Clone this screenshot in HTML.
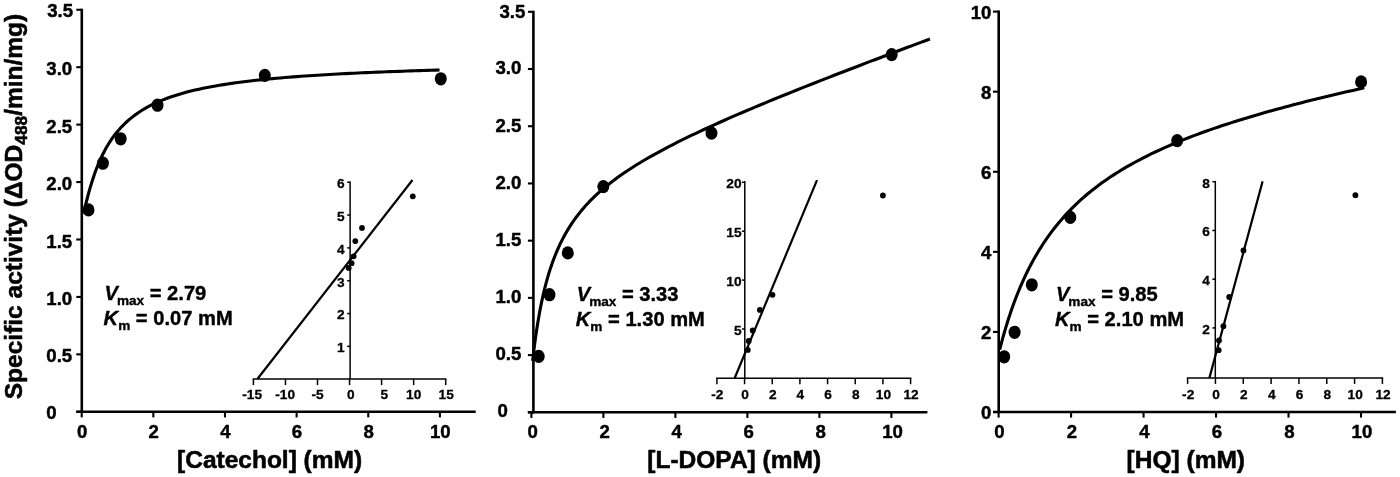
<!DOCTYPE html>
<html lang="en"><head><meta charset="utf-8"><title>Kinetics</title>
<style>html,body{margin:0;padding:0;background:#fff}svg{display:block}</style></head><body>
<svg width="1400" height="477" viewBox="0 0 1400 477">
<rect width="1400" height="477" fill="#fff"/>
<text transform="translate(22.1,206.5) rotate(-90)" text-anchor="middle" font-family='"Liberation Sans", sans-serif' font-weight="bold" font-size="24.5" fill="#000" stroke="#000" stroke-width="0.55" stroke-linejoin="round">Specific activity (ΔOD<tspan font-size="17.3" dy="5">488</tspan><tspan dy="-5">/min/mg)</tspan></text>
<path d="M81.80,8.70 V413.10" stroke="#000" stroke-width="2.60" fill="none"/>
<path d="M76.30,411.80 H475.72" stroke="#000" stroke-width="2.60" fill="none"/>
<path d="M76.30,411.80 H81.80" stroke="#000" stroke-width="2.10"/>
<path d="M76.30,354.36 H81.80" stroke="#000" stroke-width="2.10"/>
<path d="M76.30,296.93 H81.80" stroke="#000" stroke-width="2.10"/>
<path d="M76.30,239.49 H81.80" stroke="#000" stroke-width="2.10"/>
<path d="M76.30,182.06 H81.80" stroke="#000" stroke-width="2.10"/>
<path d="M76.30,124.62 H81.80" stroke="#000" stroke-width="2.10"/>
<path d="M76.30,67.19 H81.80" stroke="#000" stroke-width="2.10"/>
<path d="M76.30,9.75 H81.80" stroke="#000" stroke-width="2.10"/>
<path d="M81.70,411.80 V417.40" stroke="#000" stroke-width="2.10"/>
<path d="M153.34,411.80 V417.40" stroke="#000" stroke-width="2.10"/>
<path d="M224.98,411.80 V417.40" stroke="#000" stroke-width="2.10"/>
<path d="M296.62,411.80 V417.40" stroke="#000" stroke-width="2.10"/>
<path d="M368.26,411.80 V417.40" stroke="#000" stroke-width="2.10"/>
<path d="M439.90,411.80 V417.40" stroke="#000" stroke-width="2.10"/>
<g font-family='"Liberation Sans", sans-serif' font-weight="bold" font-size="18.60" fill="#000" stroke="#000" stroke-width="0.45" stroke-linejoin="round">
<text x="46.35" y="418.80" text-anchor="start">0</text>
<text x="46.35" y="362.46" text-anchor="start">0.5</text>
<text x="46.35" y="305.03" text-anchor="start">1.0</text>
<text x="46.35" y="247.59" text-anchor="start">1.5</text>
<text x="46.35" y="190.16" text-anchor="start">2.0</text>
<text x="46.35" y="132.72" text-anchor="start">2.5</text>
<text x="46.35" y="75.29" text-anchor="start">3.0</text>
<text x="47.15" y="17.35" text-anchor="start">3.5</text>
<text x="82.10" y="438.10" text-anchor="middle">0</text>
<text x="153.74" y="438.10" text-anchor="middle">2</text>
<text x="225.38" y="438.10" text-anchor="middle">4</text>
<text x="297.02" y="438.10" text-anchor="middle">6</text>
<text x="368.66" y="438.10" text-anchor="middle">8</text>
<text x="440.30" y="438.10" text-anchor="middle">10</text>
</g>
<path d="M84.92,207.78 L85.76,204.27 L86.60,200.87 L87.43,197.59 L88.27,194.41 L89.10,191.36 L89.94,188.41 L90.77,185.57 L91.61,182.84 L92.45,180.20 L93.28,177.66 L94.12,175.21 L94.95,172.85 L95.79,170.58 L96.62,168.38 L97.46,166.26 L98.30,164.21 L99.13,162.24 L99.97,160.33 L100.80,158.48 L101.64,156.69 L102.48,154.97 L103.31,153.29 L104.15,151.67 L104.98,150.11 L105.82,148.59 L106.65,147.11 L107.49,145.68 L108.33,144.30 L109.16,142.95 L110.00,141.65 L110.83,140.38 L111.67,139.14 L112.51,137.95 L113.34,136.78 L114.18,135.65 L115.01,134.55 L115.85,133.48 L116.68,132.43 L117.52,131.42 L121.60,126.82 L125.67,122.75 L129.75,119.12 L133.82,115.87 L137.90,112.94 L141.98,110.29 L146.05,107.88 L150.13,105.68 L154.21,103.66 L158.28,101.81 L162.36,100.10 L166.43,98.52 L170.51,97.05 L174.59,95.69 L178.66,94.42 L182.74,93.23 L186.82,92.12 L190.89,91.07 L194.97,90.09 L199.04,89.17 L203.12,88.30 L207.20,87.48 L211.27,86.70 L215.35,85.97 L219.43,85.27 L223.50,84.61 L227.58,83.97 L231.65,83.37 L235.73,82.80 L239.81,82.26 L243.88,81.73 L247.96,81.24 L252.04,80.76 L256.11,80.30 L260.19,79.86 L264.26,79.44 L268.34,79.04 L272.42,78.65 L276.49,78.28 L280.57,77.92 L284.65,77.57 L288.72,77.24 L292.80,76.92 L296.87,76.61 L300.95,76.31 L305.03,76.02 L309.10,75.74 L313.18,75.47 L317.26,75.21 L321.33,74.96 L325.41,74.71 L329.48,74.48 L333.56,74.24 L337.64,74.02 L341.71,73.80 L345.79,73.59 L349.86,73.39 L353.94,73.19 L358.02,73.00 L362.09,72.81 L366.17,72.63 L370.25,72.45 L374.32,72.28 L378.40,72.11 L382.47,71.95 L386.55,71.79 L390.63,71.63 L394.70,71.48 L398.78,71.33 L402.86,71.19 L406.93,71.05 L411.01,70.91 L415.08,70.77 L419.16,70.64 L423.24,70.52 L427.31,70.39 L431.39,70.27 L435.47,70.15 L439.54,70.03" stroke="#000" stroke-width="3.10" fill="none" stroke-linecap="butt" stroke-linejoin="round"/>
<ellipse cx="88.50" cy="209.90" rx="6.00" ry="6.65" fill="#000"/>
<ellipse cx="102.90" cy="163.20" rx="6.00" ry="6.65" fill="#000"/>
<ellipse cx="120.70" cy="138.80" rx="6.00" ry="6.65" fill="#000"/>
<ellipse cx="157.50" cy="105.20" rx="6.00" ry="6.65" fill="#000"/>
<ellipse cx="264.80" cy="75.40" rx="6.00" ry="6.65" fill="#000"/>
<ellipse cx="440.80" cy="78.80" rx="6.00" ry="6.65" fill="#000"/>
<text x="269.60" y="468.00" text-anchor="middle" font-family='"Liberation Sans", sans-serif' font-weight="bold" font-size="24.5" fill="#000" stroke="#000" stroke-width="0.55" stroke-linejoin="round">[Catechol] (mM)</text>
<g font-family='"Liberation Sans", sans-serif' font-weight="bold" font-size="20.15" fill="#000" stroke="#000" stroke-width="0.38" stroke-linejoin="round">
<text x="104.60" y="300.40"><tspan font-style="italic">V</tspan><tspan font-size="13.6" dy="5.0" dx="-1.1">max</tspan><tspan dy="-5.0"> = 2.79</tspan></text>
<text x="103.60" y="324.90"><tspan font-style="italic">K</tspan><tspan font-size="13.6" dy="5.0">m</tspan><tspan dy="-5.0"> = 0.07 mM</tspan></text>
</g>
<path d="M350.10,181.40 V379.10" stroke="#000" stroke-width="1.50"/>
<path d="M252.65,379.10 H446.45" stroke="#000" stroke-width="1.50"/>
<g font-family='"Liberation Sans", sans-serif' font-weight="bold" font-size="13.7" fill="#000" stroke="#000" stroke-width="0.3" stroke-linejoin="round">
<path d="M253.40,379.10 V385.10" stroke="#000" stroke-width="1.50"/>
<text x="252.20" y="399.00" text-anchor="middle">-15</text>
<path d="M285.45,379.10 V385.10" stroke="#000" stroke-width="1.50"/>
<text x="285.15" y="399.00" text-anchor="middle">-10</text>
<path d="M317.50,379.10 V385.10" stroke="#000" stroke-width="1.50"/>
<text x="317.50" y="399.00" text-anchor="middle">-5</text>
<path d="M349.55,379.10 V385.10" stroke="#000" stroke-width="1.50"/>
<text x="350.75" y="399.00" text-anchor="middle">0</text>
<path d="M381.60,379.10 V385.10" stroke="#000" stroke-width="1.50"/>
<text x="384.40" y="399.00" text-anchor="middle">5</text>
<path d="M413.65,379.10 V385.10" stroke="#000" stroke-width="1.50"/>
<text x="413.65" y="399.00" text-anchor="middle">10</text>
<path d="M445.70,379.10 V385.10" stroke="#000" stroke-width="1.50"/>
<text x="446.20" y="399.00" text-anchor="middle">15</text>
<path d="M347.20,346.37 H350.10" stroke="#000" stroke-width="1.50"/>
<text x="344.70" y="352.17" text-anchor="end">1</text>
<path d="M347.20,313.54 H350.10" stroke="#000" stroke-width="1.50"/>
<text x="344.70" y="319.34" text-anchor="end">2</text>
<path d="M347.20,280.71 H350.10" stroke="#000" stroke-width="1.50"/>
<text x="344.70" y="286.51" text-anchor="end">3</text>
<path d="M347.20,247.88 H350.10" stroke="#000" stroke-width="1.50"/>
<text x="344.70" y="253.68" text-anchor="end">4</text>
<path d="M347.20,215.05 H350.10" stroke="#000" stroke-width="1.50"/>
<text x="344.70" y="220.85" text-anchor="end">5</text>
<path d="M347.20,182.22 H350.10" stroke="#000" stroke-width="1.50"/>
<text x="344.70" y="188.02" text-anchor="end">6</text>
</g>
<path d="M412.50,180.00 L257.40,379.00" stroke="#000" stroke-width="2.2"/>
<circle cx="412.80" cy="196.30" r="2.9" fill="#000"/>
<circle cx="362.00" cy="227.90" r="2.9" fill="#000"/>
<circle cx="355.30" cy="241.10" r="2.9" fill="#000"/>
<circle cx="353.60" cy="256.30" r="2.9" fill="#000"/>
<circle cx="351.60" cy="263.20" r="2.9" fill="#000"/>
<circle cx="348.70" cy="267.90" r="2.9" fill="#000"/>
<path d="M533.40,10.75 V413.60" stroke="#000" stroke-width="2.60" fill="none"/>
<path d="M527.80,412.30 H927.40" stroke="#000" stroke-width="2.60" fill="none"/>
<path d="M527.90,412.30 H533.40" stroke="#000" stroke-width="2.10"/>
<path d="M527.90,355.09 H533.40" stroke="#000" stroke-width="2.10"/>
<path d="M527.90,297.87 H533.40" stroke="#000" stroke-width="2.10"/>
<path d="M527.90,240.66 H533.40" stroke="#000" stroke-width="2.10"/>
<path d="M527.90,183.44 H533.40" stroke="#000" stroke-width="2.10"/>
<path d="M527.90,126.23 H533.40" stroke="#000" stroke-width="2.10"/>
<path d="M527.90,69.01 H533.40" stroke="#000" stroke-width="2.10"/>
<path d="M527.90,11.80 H533.40" stroke="#000" stroke-width="2.10"/>
<path d="M531.40,412.30 V417.90" stroke="#000" stroke-width="2.10"/>
<path d="M603.40,412.30 V417.90" stroke="#000" stroke-width="2.10"/>
<path d="M675.40,412.30 V417.90" stroke="#000" stroke-width="2.10"/>
<path d="M747.40,412.30 V417.90" stroke="#000" stroke-width="2.10"/>
<path d="M819.40,412.30 V417.90" stroke="#000" stroke-width="2.10"/>
<path d="M891.40,412.30 V417.90" stroke="#000" stroke-width="2.10"/>
<g font-family='"Liberation Sans", sans-serif' font-weight="bold" font-size="18.60" fill="#000" stroke="#000" stroke-width="0.45" stroke-linejoin="round">
<text x="497.50" y="416.60" text-anchor="start">0</text>
<text x="495.50" y="360.39" text-anchor="start">0.5</text>
<text x="495.50" y="303.17" text-anchor="start">1.0</text>
<text x="495.50" y="245.96" text-anchor="start">1.5</text>
<text x="495.50" y="188.74" text-anchor="start">2.0</text>
<text x="495.50" y="131.53" text-anchor="start">2.5</text>
<text x="495.50" y="74.31" text-anchor="start">3.0</text>
<text x="499.50" y="18.10" text-anchor="start">3.5</text>
<text x="532.60" y="438.10" text-anchor="middle">0</text>
<text x="604.60" y="438.10" text-anchor="middle">2</text>
<text x="676.60" y="438.10" text-anchor="middle">4</text>
<text x="748.60" y="438.10" text-anchor="middle">6</text>
<text x="820.60" y="438.10" text-anchor="middle">8</text>
<text x="892.60" y="438.10" text-anchor="middle">10</text>
</g>
<path d="M532.66,360.94 L533.55,353.14 L534.44,345.89 L535.33,339.15 L536.22,332.84 L537.11,326.94 L538.00,321.40 L538.90,316.19 L539.79,311.28 L540.68,306.63 L541.57,302.24 L542.46,298.07 L543.35,294.11 L544.24,290.35 L545.13,286.76 L546.02,283.34 L546.91,280.06 L547.80,276.93 L548.69,273.93 L549.58,271.06 L550.48,268.30 L551.37,265.64 L552.26,263.08 L553.15,260.62 L554.04,258.25 L554.93,255.96 L555.82,253.75 L556.71,251.61 L557.60,249.53 L558.49,247.53 L559.38,245.59 L560.27,243.70 L561.16,241.87 L562.06,240.09 L562.95,238.37 L563.84,236.69 L564.73,235.05 L565.62,233.46 L566.51,231.91 L567.40,230.39 L571.99,223.15 L576.58,216.70 L581.17,210.87 L585.76,205.56 L590.34,200.68 L594.93,196.15 L599.52,191.93 L604.11,187.96 L608.70,184.22 L613.29,180.66 L617.88,177.28 L622.47,174.04 L627.06,170.93 L631.64,167.94 L636.23,165.04 L640.82,162.24 L645.41,159.52 L650.00,156.88 L654.59,154.30 L659.18,151.78 L663.77,149.32 L668.35,146.91 L672.94,144.54 L677.53,142.22 L682.12,139.94 L686.71,137.69 L691.30,135.47 L695.89,133.29 L700.48,131.13 L705.07,129.00 L709.65,126.90 L714.24,124.82 L718.83,122.76 L723.42,120.71 L728.01,118.69 L732.60,116.69 L737.19,114.70 L741.78,112.73 L746.37,110.77 L750.95,108.83 L755.54,106.90 L760.13,104.98 L764.72,103.08 L769.31,101.18 L773.90,99.30 L778.49,97.42 L783.08,95.56 L787.67,93.70 L792.25,91.85 L796.84,90.01 L801.43,88.18 L806.02,86.35 L810.61,84.54 L815.20,82.73 L819.79,80.92 L824.38,79.12 L828.97,77.33 L833.55,75.54 L838.14,73.76 L842.73,71.99 L847.32,70.21 L851.91,68.45 L856.50,66.69 L861.09,64.93 L865.68,63.17 L870.26,61.42 L874.85,59.68 L879.44,57.94 L884.03,56.20 L888.62,54.46 L893.21,52.73 L897.80,51.00 L902.39,49.28 L906.98,47.56 L911.56,45.84 L916.15,44.12 L920.74,42.41 L925.33,40.70 L929.92,38.99" stroke="#000" stroke-width="3.10" fill="none" stroke-linecap="butt" stroke-linejoin="round"/>
<ellipse cx="538.70" cy="356.40" rx="6.00" ry="6.65" fill="#000"/>
<ellipse cx="549.50" cy="294.70" rx="6.00" ry="6.65" fill="#000"/>
<ellipse cx="567.80" cy="252.90" rx="6.00" ry="6.65" fill="#000"/>
<ellipse cx="603.30" cy="186.60" rx="6.00" ry="6.65" fill="#000"/>
<ellipse cx="711.50" cy="133.10" rx="6.00" ry="6.65" fill="#000"/>
<ellipse cx="891.70" cy="54.60" rx="6.00" ry="6.65" fill="#000"/>
<text x="734.20" y="468.00" text-anchor="middle" font-family='"Liberation Sans", sans-serif' font-weight="bold" font-size="24.5" fill="#000" stroke="#000" stroke-width="0.55" stroke-linejoin="round">[L-DOPA] (mM)</text>
<g font-family='"Liberation Sans", sans-serif' font-weight="bold" font-size="20.15" fill="#000" stroke="#000" stroke-width="0.38" stroke-linejoin="round">
<text x="576.80" y="301.00"><tspan font-style="italic">V</tspan><tspan font-size="13.6" dy="5.0" dx="-1.1">max</tspan><tspan dy="-5.0"> = 3.33</tspan></text>
<text x="575.80" y="325.50"><tspan font-style="italic">K</tspan><tspan font-size="13.6" dy="5.0">m</tspan><tspan dy="-5.0"> = 1.30 mM</tspan></text>
</g>
<path d="M744.80,180.90 V378.20" stroke="#000" stroke-width="1.50"/>
<path d="M716.15,378.20 H911.35" stroke="#000" stroke-width="1.50"/>
<g font-family='"Liberation Sans", sans-serif' font-weight="bold" font-size="13.7" fill="#000" stroke="#000" stroke-width="0.3" stroke-linejoin="round">
<path d="M716.90,378.20 V384.20" stroke="#000" stroke-width="1.50"/>
<text x="717.40" y="399.00" text-anchor="middle">-2</text>
<path d="M744.57,378.20 V384.20" stroke="#000" stroke-width="1.50"/>
<text x="745.07" y="399.00" text-anchor="middle">0</text>
<path d="M772.24,378.20 V384.20" stroke="#000" stroke-width="1.50"/>
<text x="772.74" y="399.00" text-anchor="middle">2</text>
<path d="M799.91,378.20 V384.20" stroke="#000" stroke-width="1.50"/>
<text x="800.41" y="399.00" text-anchor="middle">4</text>
<path d="M827.58,378.20 V384.20" stroke="#000" stroke-width="1.50"/>
<text x="828.08" y="399.00" text-anchor="middle">6</text>
<path d="M855.25,378.20 V384.20" stroke="#000" stroke-width="1.50"/>
<text x="855.75" y="399.00" text-anchor="middle">8</text>
<path d="M882.92,378.20 V384.20" stroke="#000" stroke-width="1.50"/>
<text x="883.42" y="399.00" text-anchor="middle">10</text>
<path d="M910.59,378.20 V384.20" stroke="#000" stroke-width="1.50"/>
<text x="911.09" y="399.00" text-anchor="middle">12</text>
<path d="M741.90,329.00 H744.80" stroke="#000" stroke-width="1.50"/>
<text x="741.50" y="334.80" text-anchor="end">5</text>
<path d="M741.90,280.10 H744.80" stroke="#000" stroke-width="1.50"/>
<text x="741.50" y="285.90" text-anchor="end">10</text>
<path d="M741.90,231.20 H744.80" stroke="#000" stroke-width="1.50"/>
<text x="741.50" y="237.00" text-anchor="end">15</text>
<path d="M741.90,182.30 H744.80" stroke="#000" stroke-width="1.50"/>
<text x="741.50" y="188.10" text-anchor="end">20</text>
</g>
<path d="M817.00,180.10 L734.70,378.00" stroke="#000" stroke-width="2.2"/>
<circle cx="882.90" cy="195.50" r="2.9" fill="#000"/>
<circle cx="772.50" cy="294.80" r="2.9" fill="#000"/>
<circle cx="759.90" cy="309.90" r="2.9" fill="#000"/>
<circle cx="752.70" cy="330.50" r="2.9" fill="#000"/>
<circle cx="748.70" cy="341.00" r="2.9" fill="#000"/>
<circle cx="747.80" cy="349.90" r="2.9" fill="#000"/>
<path d="M998.70,10.55 V413.30" stroke="#000" stroke-width="2.60" fill="none"/>
<path d="M993.00,412.00 H1395.90" stroke="#000" stroke-width="2.60" fill="none"/>
<path d="M993.00,412.00 H998.70" stroke="#000" stroke-width="2.10"/>
<path d="M993.00,331.92 H998.70" stroke="#000" stroke-width="2.10"/>
<path d="M993.00,251.84 H998.70" stroke="#000" stroke-width="2.10"/>
<path d="M993.00,171.76 H998.70" stroke="#000" stroke-width="2.10"/>
<path d="M993.00,91.68 H998.70" stroke="#000" stroke-width="2.10"/>
<path d="M993.00,11.60 H998.70" stroke="#000" stroke-width="2.10"/>
<path d="M998.60,412.00 V417.60" stroke="#000" stroke-width="2.10"/>
<path d="M1071.08,412.00 V417.60" stroke="#000" stroke-width="2.10"/>
<path d="M1143.56,412.00 V417.60" stroke="#000" stroke-width="2.10"/>
<path d="M1216.04,412.00 V417.60" stroke="#000" stroke-width="2.10"/>
<path d="M1288.52,412.00 V417.60" stroke="#000" stroke-width="2.10"/>
<path d="M1361.00,412.00 V417.60" stroke="#000" stroke-width="2.10"/>
<g font-family='"Liberation Sans", sans-serif' font-weight="bold" font-size="18.60" fill="#000" stroke="#000" stroke-width="0.45" stroke-linejoin="round">
<text x="991.40" y="419.30" text-anchor="end">0</text>
<text x="991.40" y="339.22" text-anchor="end">2</text>
<text x="991.40" y="259.14" text-anchor="end">4</text>
<text x="991.40" y="179.06" text-anchor="end">6</text>
<text x="991.40" y="98.98" text-anchor="end">8</text>
<text x="991.40" y="18.90" text-anchor="end">10</text>
<text x="999.50" y="438.10" text-anchor="middle">0</text>
<text x="1071.98" y="438.10" text-anchor="middle">2</text>
<text x="1144.46" y="438.10" text-anchor="middle">4</text>
<text x="1216.94" y="438.10" text-anchor="middle">6</text>
<text x="1289.42" y="438.10" text-anchor="middle">8</text>
<text x="1361.90" y="438.10" text-anchor="middle">10</text>
</g>
<path d="M999.69,349.74 L1000.59,346.22 L1001.49,342.79 L1002.39,339.45 L1003.29,336.19 L1004.19,333.01 L1005.10,329.91 L1006.00,326.89 L1006.90,323.93 L1007.80,321.05 L1008.70,318.23 L1009.60,315.47 L1010.50,312.78 L1011.40,310.15 L1012.31,307.57 L1013.21,305.05 L1014.11,302.59 L1015.01,300.17 L1015.91,297.81 L1016.81,295.49 L1017.71,293.22 L1018.62,291.00 L1019.52,288.82 L1020.42,286.69 L1021.32,284.59 L1022.22,282.54 L1023.12,280.52 L1024.02,278.54 L1024.93,276.60 L1025.83,274.70 L1026.73,272.83 L1027.63,270.99 L1028.53,269.19 L1029.43,267.42 L1030.33,265.67 L1031.23,263.96 L1032.14,262.28 L1033.04,260.63 L1033.94,259.00 L1034.84,257.40 L1039.01,250.33 L1043.18,243.75 L1047.35,237.62 L1051.52,231.88 L1055.69,226.50 L1059.86,221.43 L1064.03,216.66 L1068.20,212.15 L1072.37,207.87 L1076.54,203.81 L1080.71,199.95 L1084.88,196.28 L1089.05,192.77 L1093.22,189.41 L1097.39,186.20 L1101.56,183.12 L1105.73,180.17 L1109.90,177.32 L1114.07,174.58 L1118.24,171.95 L1122.41,169.40 L1126.58,166.94 L1130.75,164.56 L1134.92,162.26 L1139.09,160.03 L1143.26,157.86 L1147.43,155.76 L1151.60,153.72 L1155.77,151.73 L1159.94,149.79 L1164.11,147.91 L1168.28,146.07 L1172.45,144.28 L1176.62,142.53 L1180.79,140.82 L1184.96,139.15 L1189.13,137.52 L1193.30,135.92 L1197.47,134.35 L1201.64,132.82 L1205.81,131.32 L1209.98,129.84 L1214.15,128.39 L1218.32,126.97 L1222.49,125.58 L1226.66,124.20 L1230.83,122.85 L1234.99,121.53 L1239.16,120.22 L1243.33,118.93 L1247.50,117.67 L1251.67,116.42 L1255.84,115.19 L1260.01,113.98 L1264.18,112.78 L1268.35,111.60 L1272.52,110.44 L1276.69,109.29 L1280.86,108.16 L1285.03,107.04 L1289.20,105.93 L1293.37,104.83 L1297.54,103.75 L1301.71,102.68 L1305.88,101.62 L1310.05,100.58 L1314.22,99.54 L1318.39,98.51 L1322.56,97.50 L1326.73,96.49 L1330.90,95.50 L1335.07,94.51 L1339.24,93.53 L1343.41,92.56 L1347.58,91.60 L1351.75,90.65 L1355.92,89.70 L1360.09,88.77 L1364.26,87.84" stroke="#000" stroke-width="3.10" fill="none" stroke-linecap="butt" stroke-linejoin="round"/>
<ellipse cx="1004.20" cy="356.80" rx="6.00" ry="6.65" fill="#000"/>
<ellipse cx="1014.60" cy="332.30" rx="6.00" ry="6.65" fill="#000"/>
<ellipse cx="1031.80" cy="284.80" rx="6.00" ry="6.65" fill="#000"/>
<ellipse cx="1070.30" cy="217.40" rx="6.00" ry="6.65" fill="#000"/>
<ellipse cx="1177.20" cy="140.60" rx="6.00" ry="6.65" fill="#000"/>
<ellipse cx="1361.10" cy="81.90" rx="6.00" ry="6.65" fill="#000"/>
<text x="1185.80" y="468.00" text-anchor="middle" font-family='"Liberation Sans", sans-serif' font-weight="bold" font-size="24.5" fill="#000" stroke="#000" stroke-width="0.55" stroke-linejoin="round">[HQ] (mM)</text>
<g font-family='"Liberation Sans", sans-serif' font-weight="bold" font-size="20.15" fill="#000" stroke="#000" stroke-width="0.38" stroke-linejoin="round">
<text x="1056.00" y="301.20"><tspan font-style="italic">V</tspan><tspan font-size="13.6" dy="5.0" dx="-1.1">max</tspan><tspan dy="-5.0"> = 9.85</tspan></text>
<text x="1055.00" y="325.70"><tspan font-style="italic">K</tspan><tspan font-size="13.6" dy="5.0">m</tspan><tspan dy="-5.0"> = 2.10 mM</tspan></text>
</g>
<path d="M1215.30,180.90 V377.90" stroke="#000" stroke-width="1.50"/>
<path d="M1186.85,377.90 H1383.15" stroke="#000" stroke-width="1.50"/>
<g font-family='"Liberation Sans", sans-serif' font-weight="bold" font-size="13.7" fill="#000" stroke="#000" stroke-width="0.3" stroke-linejoin="round">
<path d="M1187.60,377.90 V383.90" stroke="#000" stroke-width="1.50"/>
<text x="1188.20" y="399.00" text-anchor="middle">-2</text>
<path d="M1215.43,377.90 V383.90" stroke="#000" stroke-width="1.50"/>
<text x="1216.03" y="399.00" text-anchor="middle">0</text>
<path d="M1243.26,377.90 V383.90" stroke="#000" stroke-width="1.50"/>
<text x="1243.86" y="399.00" text-anchor="middle">2</text>
<path d="M1271.09,377.90 V383.90" stroke="#000" stroke-width="1.50"/>
<text x="1271.69" y="399.00" text-anchor="middle">4</text>
<path d="M1298.92,377.90 V383.90" stroke="#000" stroke-width="1.50"/>
<text x="1299.52" y="399.00" text-anchor="middle">6</text>
<path d="M1326.75,377.90 V383.90" stroke="#000" stroke-width="1.50"/>
<text x="1327.35" y="399.00" text-anchor="middle">8</text>
<path d="M1354.58,377.90 V383.90" stroke="#000" stroke-width="1.50"/>
<text x="1355.18" y="399.00" text-anchor="middle">10</text>
<path d="M1382.41,377.90 V383.90" stroke="#000" stroke-width="1.50"/>
<text x="1383.01" y="399.00" text-anchor="middle">12</text>
<path d="M1212.40,327.92 H1215.30" stroke="#000" stroke-width="1.50"/>
<text x="1209.90" y="333.72" text-anchor="end">2</text>
<path d="M1212.40,279.19 H1215.30" stroke="#000" stroke-width="1.50"/>
<text x="1209.90" y="284.99" text-anchor="end">4</text>
<path d="M1212.40,230.46 H1215.30" stroke="#000" stroke-width="1.50"/>
<text x="1209.90" y="236.26" text-anchor="end">6</text>
<path d="M1212.40,181.73 H1215.30" stroke="#000" stroke-width="1.50"/>
<text x="1209.90" y="187.53" text-anchor="end">8</text>
</g>
<path d="M1262.60,181.40 L1209.40,377.90" stroke="#000" stroke-width="2.2"/>
<circle cx="1355.40" cy="195.20" r="2.9" fill="#000"/>
<circle cx="1243.50" cy="250.40" r="2.9" fill="#000"/>
<circle cx="1229.20" cy="297.00" r="2.9" fill="#000"/>
<circle cx="1223.40" cy="326.20" r="2.9" fill="#000"/>
<circle cx="1219.00" cy="340.50" r="2.9" fill="#000"/>
<circle cx="1218.70" cy="350.20" r="2.9" fill="#000"/>
</svg></body></html>
